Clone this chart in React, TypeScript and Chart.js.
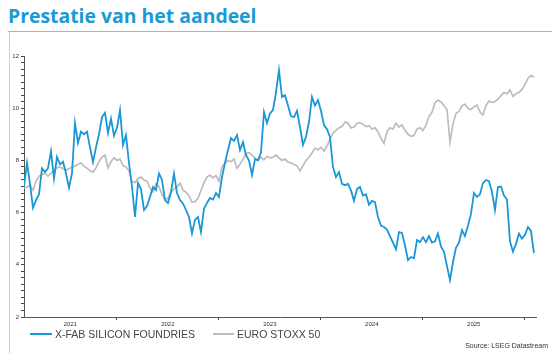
import React, { useEffect, useRef } from 'react';
import { Chart, registerables } from 'chart.js';

Chart.register(...registerables);

// Dates: first observation (fractional year) and sampling step (~1.5 weeks)
const START_YEAR = 2021.09;
const END_YEAR = 2026.11;
const STEP = 1 / 34;

const yearLabels = ['2021', '2022', '2023', '2024', '2025'];
const yearStarts = [2021, 2022, 2023, 2024, 2025, 2026];

const xfabValues = [
  7.0, 7.9, 7.1, 6.18, 6.48, 6.7, 7.7, 7.55, 7.7, 8.35,
  7.3, 8.13, 7.85, 7.95, 7.5, 6.95, 7.5, 9.43, 8.67, 9.1,
  9.0, 9.1, 8.5, 7.94, 8.5, 9.0, 9.66, 9.82, 9.05, 9.6,
  8.95, 9.25, 9.93, 8.6, 8.97, 7.9, 7.0, 5.83, 7.13, 6.9,
  6.1, 6.25, 6.6, 6.98, 6.86, 7.5, 7.25, 6.48, 6.37, 6.79,
  7.5, 6.75, 6.48, 6.35, 6.1, 5.83, 5.2, 5.72, 5.83, 5.26,
  6.15, 6.37, 6.56, 6.5, 6.75, 6.6, 7.36, 7.9, 8.4, 8.85,
  8.75, 8.97, 8.4, 8.7, 8.2, 8.0, 7.44, 8.05, 8.0, 8.3,
  9.85, 9.43, 9.8, 9.93, 10.6, 11.46, 10.43, 10.5, 10.1, 9.7,
  9.66, 9.9, 9.28, 8.6, 8.9, 9.47, 10.43, 10.1, 10.31, 9.9,
  9.35, 9.2, 8.9, 7.75, 7.36, 7.55, 7.1, 7.05, 7.1, 6.85,
  6.45, 6.9, 6.98, 6.65, 6.7, 6.3, 6.45, 6.4, 5.83, 5.5,
  5.45, 5.35, 5.1, 4.85, 4.6, 5.25, 5.22, 4.75, 4.18, 4.3,
  4.25, 4.95, 4.87, 5.06, 4.87, 5.1, 4.85, 4.9, 5.2, 4.7,
  4.5, 3.95, 3.42, 4.1, 4.65, 4.85, 5.33, 5.1, 5.5, 5.95,
  6.75, 6.6, 6.7, 7.13, 7.25, 7.2, 6.8, 6.1, 6.98, 7.0,
  6.65, 6.5, 4.9, 4.5, 4.8, 5.2, 5.0, 5.15, 5.45, 5.3,
  4.45,
];

const stoxxValues = [
  6.94, 6.98, 7.05, 6.86, 7.2, 7.4, 7.45, 7.5, 7.4, 7.5,
  7.63, 7.72, 7.75, 7.68, 7.62, 7.68, 7.75, 7.78, 7.85, 7.9,
  7.78, 7.7, 7.6, 7.55, 7.72, 7.95, 8.13, 8.2, 7.72, 7.95,
  8.1, 8.0, 8.05, 7.8, 7.75, 7.6, 7.2, 7.15, 7.3, 7.36,
  7.25, 7.2, 6.94, 6.8, 7.1, 7.0, 6.7, 6.5, 6.55, 6.78,
  6.9, 6.98, 7.13, 6.86, 6.78, 6.65, 6.4, 6.42, 6.55, 6.85,
  7.15, 7.36, 7.44, 7.33, 7.42, 7.2, 7.75, 7.9, 8.0, 7.95,
  8.05, 7.7, 7.85, 8.05, 8.25, 8.3, 8.2, 8.09, 8.0, 8.12,
  8.02, 8.15, 8.1, 8.12, 8.2, 8.1, 8.0, 8.05, 7.94, 7.9,
  7.85, 7.78, 7.6, 7.8, 8.0, 8.12, 8.28, 8.47, 8.4, 8.5,
  8.35, 8.55, 8.8, 9.05, 9.15, 9.25, 9.3, 9.47, 9.43, 9.24,
  9.28, 9.42, 9.45, 9.38, 9.3, 9.33, 9.2, 9.25, 9.1, 8.85,
  8.65, 9.1, 9.25, 9.2, 9.43, 9.28, 9.36, 9.15, 9.0, 8.92,
  8.95, 9.2, 9.25, 9.15, 9.35, 9.68, 9.85, 10.2, 10.31, 10.24,
  10.1, 9.95, 8.7, 9.4, 9.8, 9.88, 10.1, 10.15, 10.0, 9.95,
  10.05, 10.12, 9.85, 9.74, 10.1, 10.28, 10.22, 10.25, 10.35, 10.48,
  10.6, 10.55, 10.7, 10.45, 10.55, 10.6, 10.72, 10.9, 11.15, 11.25,
  11.2,
];

const seriesNames = ['X-FAB SILICON FOUNDRIES', 'EURO STOXX 50'];
const seriesColors = ['#1a97d4', '#bdbdbd'];

const Y_MIN = 2;
const Y_MAX = 12;
const Y_STEP = 0.25;
const Y_LABEL_EVERY = 2;

const boundaries = yearStarts.filter((y) => y > START_YEAR && y < END_YEAR);
const labelPositions = yearLabels.map((_, i) => {
  const a = Math.max(yearStarts[i], START_YEAR);
  const b = Math.min(yearStarts[i + 1], END_YEAR);
  return (a + b) / 2;
});

const toPoints = (vals: number[]) => vals.map((v, i) => ({ x: START_YEAR + i * STEP, y: v }));

const near = (a: number, b: number) => Math.abs(a - b) < 1e-6;

export default function App() {
  const ref = useRef<HTMLCanvasElement | null>(null);

  useEffect(() => {
    if (!ref.current) return;
    const chart = new Chart(ref.current, {
      type: 'line',
      data: {
        datasets: [
          {
            label: seriesNames[0],
            data: toPoints(xfabValues),
            borderColor: seriesColors[0],
            borderWidth: 1.8,
            pointRadius: 0,
            tension: 0,
            order: 0,
          },
          {
            label: seriesNames[1],
            data: toPoints(stoxxValues),
            borderColor: seriesColors[1],
            borderWidth: 1.7,
            pointRadius: 0,
            tension: 0,
            order: 1,
          },
        ],
      },
      options: {
        animation: false,
        responsive: false,
        maintainAspectRatio: false,
        layout: { padding: { top: 56, right: 24, bottom: 16, left: 0 } },
        plugins: { legend: { display: false }, tooltip: { enabled: false }, title: { display: false } },
        scales: {
          x: {
            type: 'linear',
            min: START_YEAR,
            max: END_YEAR,
            afterBuildTicks: (s: any) => {
              const vals = [...boundaries, ...labelPositions].sort((a, b) => a - b);
              s.ticks = vals.map((v) => ({ value: v }));
            },
            afterFit: (s: any) => {
              s.height = 20;
            },
            border: { color: '#555', width: 1 },
            grid: {
              drawOnChartArea: false,
              tickLength: 3,
              color: (ctx: any) =>
                ctx.tick && boundaries.some((b) => near(b, ctx.tick.value)) ? '#444' : 'rgba(0,0,0,0)',
            },
            ticks: {
              autoSkip: false,
              maxRotation: 0,
              minRotation: 0,
              padding: 1,
              color: '#333',
              font: { family: 'Liberation Sans', size: 6 },
              callback: (v: any) => {
                const idx = labelPositions.findIndex((p) => near(p, Number(v)));
                return idx >= 0 ? yearLabels[idx] : '';
              },
            },
          },
          y: {
            type: 'linear',
            min: Y_MIN,
            max: Y_MAX,
            afterFit: (s: any) => {
              s.width = 24;
            },
            border: { color: '#555', width: 1 },
            grid: { drawOnChartArea: false, tickLength: 3, color: '#444' },
            ticks: {
              stepSize: Y_STEP,
              autoSkip: false,
              padding: 2,
              color: '#333',
              font: { family: 'Liberation Sans', size: 6 },
              callback: (v: any) => (Number(v) % Y_LABEL_EVERY === 0 ? String(v) : ''),
            },
          },
        },
      },
    } as any);
    return () => chart.destroy();
  }, []);

  return (
    <div style={{ position: 'absolute', left: 0, top: 0, width: 560, height: 353, background: '#fff', overflow: 'hidden' }}>
      <div
        style={{
          position: 'absolute',
          left: 8,
          top: 3,
          fontFamily: '"Open Sans", sans-serif',
          fontWeight: 700,
          fontSize: 19.4,
          color: '#1a9ad6',
          whiteSpace: 'nowrap',
          lineHeight: '26px',
        }}
      >
        Prestatie van het aandeel
      </div>
      <div style={{ position: 'absolute', left: 8, top: 31, width: 544, height: 1, background: '#b0b0b0' }} />
      <div style={{ position: 'absolute', left: 9, top: 31, width: 1, height: 322, background: '#d0d0d0' }} />
      <canvas ref={ref} width={560} height={353} style={{ position: 'absolute', left: 0, top: 0 }} />
      <div
        style={{
          position: 'absolute',
          left: 30,
          top: 328,
          display: 'flex',
          alignItems: 'center',
          fontFamily: '"Liberation Sans", Arial, sans-serif',
          fontSize: 10.5,
          color: '#444',
          whiteSpace: 'nowrap',
        }}
      >
        <span style={{ display: 'inline-block', width: 22, height: 2, background: seriesColors[0], marginRight: 3 }} />
        <span>{seriesNames[0]}</span>
        <span style={{ display: 'inline-block', width: 21, height: 1.5, background: seriesColors[1], marginLeft: 18, marginRight: 3 }} />
        <span>{seriesNames[1]}</span>
      </div>
      <div
        style={{
          position: 'absolute',
          right: 12,
          top: 342,
          fontFamily: '"Liberation Sans", Arial, sans-serif',
          fontSize: 7,
          color: '#333',
          whiteSpace: 'nowrap',
        }}
      >
        Source: LSEG Datastream
      </div>
    </div>
  );
}
